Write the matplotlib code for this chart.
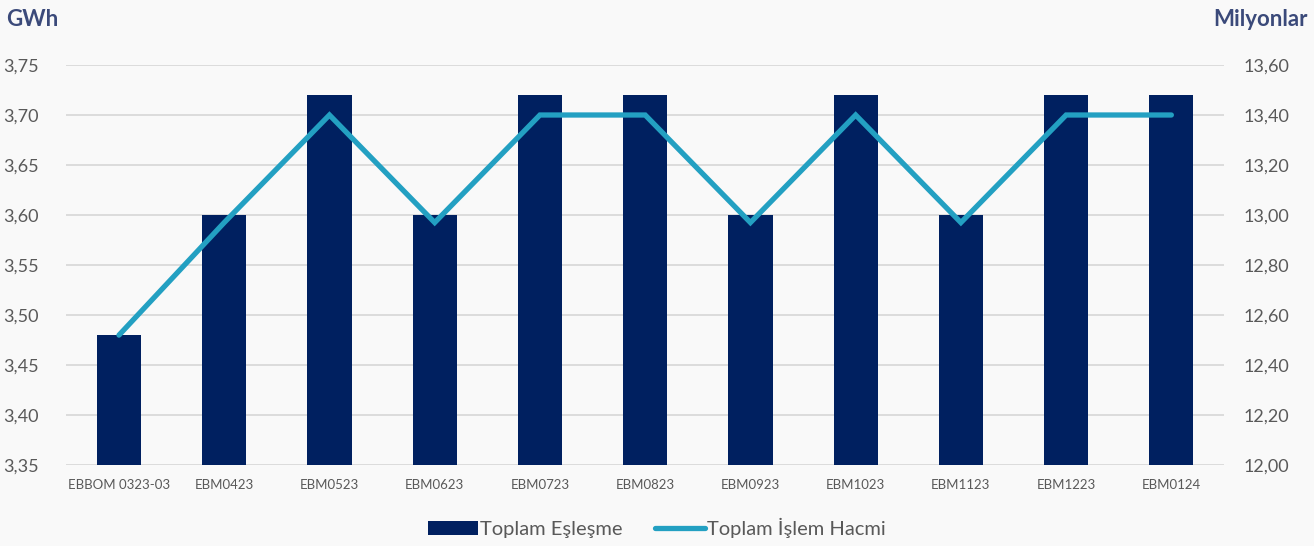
import matplotlib.pyplot as plt
from matplotlib.ticker import FuncFormatter, MultipleLocator

# chart data
kontratlar = ['EBBOM 0323-03', 'EBM0423', 'EBM0523', 'EBM0623', 'EBM0723', 'EBM0823',
              'EBM0923', 'EBM1023', 'EBM1123', 'EBM1223', 'EBM0124']
eslesme_gwh = [3.48, 3.60, 3.72, 3.60, 3.72, 3.72, 3.60, 3.72, 3.60, 3.72, 3.72]
islem_hacmi_mn = [12.52, 12.97, 13.40, 12.97, 13.40, 13.40, 12.97, 13.40, 12.97, 13.40, 13.40]

plt.rcParams['font.family'] = ['Lato', 'DejaVu Sans']

bar_color = '#002060'
line_color = '#23a0c2'
tick_color = '#595959'
title_color = '#3b4a7a'

fig = plt.figure(figsize=(13.14, 5.46), dpi=100, facecolor='#f9f9f9')
ax = fig.add_axes([0.0505, 0.148, 0.881, 0.733])
ax.set_facecolor('none')

x = range(len(kontratlar))
bars = ax.bar(x, eslesme_gwh, width=0.42, color=bar_color, zorder=2, label='Toplam Eşleşme')
ax.set_ylim(3.35, 3.75)
ax.set_xlim(-0.5, len(kontratlar) - 0.5)
ax.yaxis.set_major_locator(MultipleLocator(0.05))
ax.yaxis.set_major_formatter(FuncFormatter(lambda v, p: f'{v:.2f}'.replace('.', ',')))
ax.grid(axis='y', color='#d9d9d9', linewidth=1.3, zorder=0)
ax.set_axisbelow(True)
ax.set_xticks(list(x))
ax.set_xticklabels(kontratlar, fontsize=9.5, color=tick_color)
ax.tick_params(axis='y', length=0, labelsize=13, labelcolor=tick_color, pad=20)
ax.tick_params(axis='x', length=0, pad=10)
for s in ax.spines.values():
    s.set_visible(False)

ax2 = ax.twinx()
line, = ax2.plot(x, islem_hacmi_mn, color=line_color, linewidth=3.8,
                 solid_capstyle='round', solid_joinstyle='miter', zorder=3,
                 label='Toplam İşlem Hacmi')
ax2.set_ylim(12.0, 13.6)
ax2.yaxis.set_major_locator(MultipleLocator(0.2))
ax2.yaxis.set_major_formatter(FuncFormatter(lambda v, p: f'{v:.2f}'.replace('.', ',')))
ax2.tick_params(axis='y', length=0, labelsize=13, labelcolor=tick_color, pad=14)
for s in ax2.spines.values():
    s.set_visible(False)

fig.text(0.005, 0.965, 'GWh', fontsize=16, fontweight='bold', color=title_color, va='center')
fig.text(0.995, 0.965, 'Milyonlar', fontsize=16, fontweight='bold', color=title_color,
         va='center', ha='right')

fig.legend([bars, line], ['Toplam Eşleşme', 'Toplam İşlem Hacmi'], loc='center',
           bbox_to_anchor=(0.5, 0.033), ncol=2, frameon=False, fontsize=14.5,
           labelcolor=tick_color, handlelength=2.5, handletextpad=0.1, columnspacing=1.6)

fig.savefig('out.png', dpi=100, facecolor=fig.get_facecolor())
